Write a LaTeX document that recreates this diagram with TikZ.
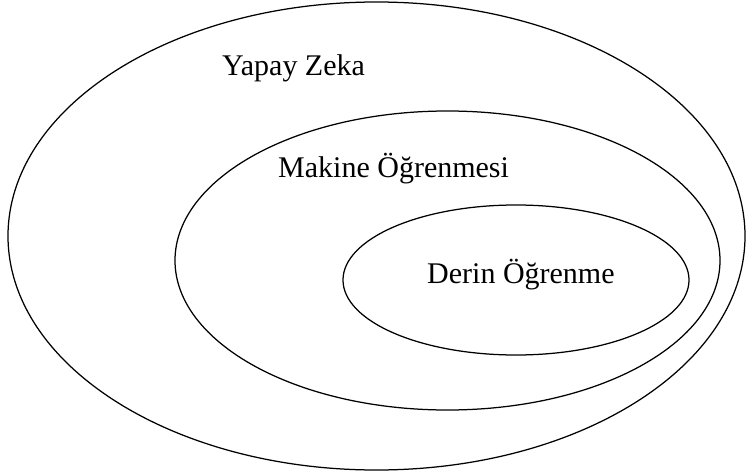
\documentclass[tikz,border=0pt]{standalone}
\usepackage{fontspec}
\setmainfont{Liberation Serif}
\usetikzlibrary{shapes.geometric}
\begin{document}
\begin{tikzpicture}[x=1pt,y=1pt,
  ell/.style={draw=black, line width=1.25pt, ellipse, inner sep=0pt, outer sep=0pt},
  lbl/.style={anchor=base west, inner sep=0pt, font=\fontsize{30}{32}\selectfont}]
\useasboundingbox[fill=white] (0,0) rectangle (747,475);
\node[ell, minimum width=737pt, minimum height=468pt] (ai) at (376.5,239) {};
\node[ell, minimum width=545pt, minimum height=299pt] (ml) at (447.5,214.5) {};
\node[ell, minimum width=346pt, minimum height=150pt] (dl) at (516,195) {};
\node[lbl] (tai) at (222,399) {Yapay Zeka};
\node[lbl] (tml) at (278,298) {Makine Öğrenmesi};
\node[lbl] (tdl) at (427,192) {Derin Öğrenme};
\end{tikzpicture}
\end{document}
